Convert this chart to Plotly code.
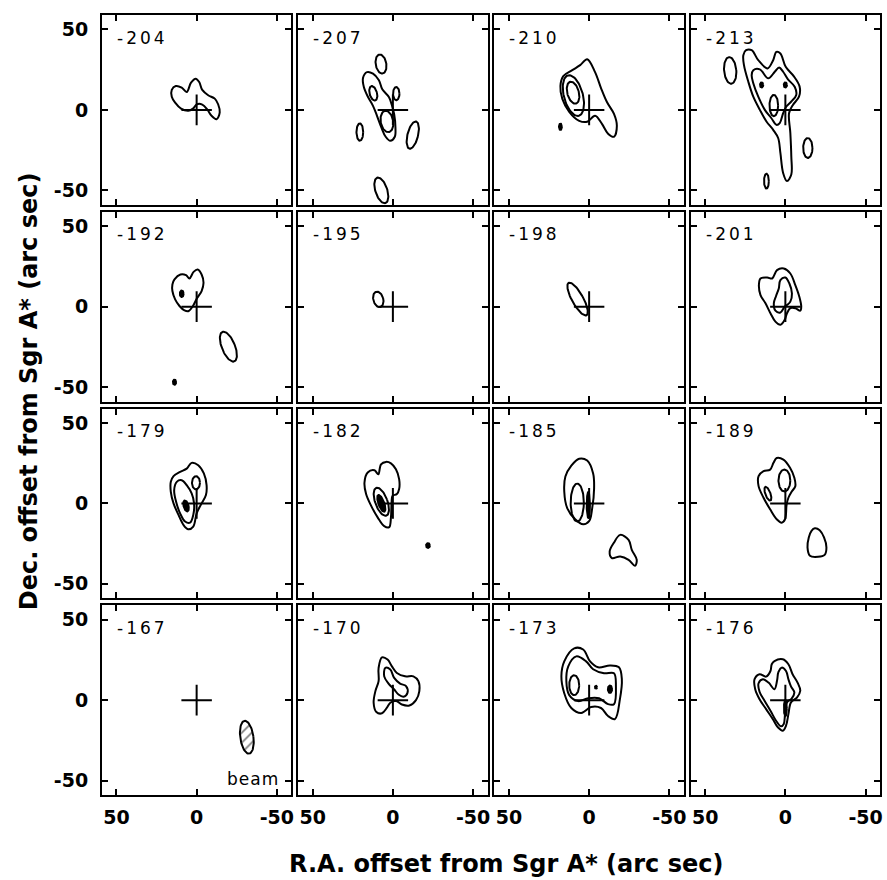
import numpy as np
import plotly.graph_objects as go
from plotly.subplots import make_subplots

# ---------------- data ----------------
VELOCITIES = [["-204", "-207", "-210", "-213"],
              ["-192", "-195", "-198", "-201"],
              ["-179", "-182", "-185", "-189"],
              ["-167", "-170", "-173", "-176"]]
TICK_VALS = [50, 0, -50]
TICK_TEXT = ["50", "0", "-50"]
AXIS_LIM = 59
CROSS_ARM = 9.5

# closed contour outlines: (R.A. offset, Dec. offset) in arcsec
C204 = [(15.5, 12.4), (13.0, 14.8), (9.3, 13.8), (6.2, 11.1), (3.5, 16.9), (0.6, 19.4), (-1.6, 17.3),
        (-3.5, 12.4), (-7.2, 9.1), (-11.3, 7.0), (-13.4, 3.5), (-14.4, -1.6), (-12.4, -5.8), (-9.3, -3.7),
        (-6.8, 0.0), (-3.5, 3.3), (-0.2, 3.5), (2.3, 0.8), (5.2, -0.6), (9.7, 0.8), (13.4, 4.5), (15.5, 8.2)]
C207 = [(16.1, 23.5), (12.4, 22.5), (8.7, 18.4), (6.6, 12.8), (2.5, 8.0), (0.8, 3.5), (-0.8, -2.7),
        (-1.6, -10.9), (-1.2, -16.7), (1.6, -19.2), (4.5, -16.7), (7.2, -10.9), (9.9, -3.7), (12.4, 2.5),
        (15.5, 8.0), (18.1, 14.2), (18.6, 20.0)]
C210 = [(1.2, 31.5), (-3.7, 23.5), (-7.4, 13.6), (-11.1, 4.9), (-15.5, -2.5), (-17.3, -9.9), (-15.5, -16.7),
        (-11.8, -14.8), (-8.0, -8.7), (-3.7, -3.7), (1.2, -7.4), (6.2, -6.8), (12.4, -1.2), (16.7, 6.8),
        (17.9, 14.8), (16.1, 21.0), (10.5, 24.7), (5.6, 27.8)]
C213_OUT = [(24.5, 37.1), (21.0, 37.1), (16.9, 30.9), (11.1, 25.8), (7.6, 30.9), (5.6, 36.1), (3.1, 35.1),
            (-0.2, 26.8), (-5.2, 21.0), (-8.9, 14.4), (-8.5, 8.2), (-4.7, 3.1), (-2.3, -2.1), (-3.1, -14.4),
            (-3.7, -28.9), (-3.7, -40.2), (-1.0, -44.3), (1.4, -39.2), (3.1, -26.8), (4.5, -17.5),
            (7.6, -12.4), (11.8, -7.2), (15.9, 0.0), (20.0, 8.2), (23.1, 17.5), (25.8, 27.8), (26.2, 34.0)]
C213_MID = [(20.0, 24.7), (15.9, 25.2), (10.7, 19.6), (6.6, 23.7), (3.9, 26.4), (1.4, 23.7), (-1.6, 19.0),
            (-5.8, 14.4), (-6.8, 9.3), (-3.7, 5.2), (-0.6, 2.1), (1.4, -2.1), (3.5, -8.2), (5.6, -9.3),
            (8.7, -5.2), (12.8, 0.0), (16.9, 8.2), (20.0, 16.5), (21.0, 21.6)]
C192 = [(13.8, 16.9), (10.1, 20.0), (6.6, 19.6), (4.5, 17.5), (1.9, 21.6), (-0.6, 23.1), (-3.1, 20.0),
        (-4.3, 14.8), (-3.1, 9.7), (-0.2, 5.2), (2.3, 0.4), (4.9, -2.7), (7.6, -2.3), (10.7, 0.4),
        (13.4, 4.5), (15.1, 9.7), (15.1, 13.8)]
C201_OUT = [(15.5, 17.5), (11.3, 18.1), (8.2, 17.5), (5.2, 22.7), (1.0, 23.7), (-3.1, 20.6), (-6.2, 13.4),
            (-8.7, 6.2), (-9.9, 0.0), (-9.3, -2.5), (-6.2, -1.0), (-3.1, -1.0), (-1.0, -4.1), (0.4, -8.2),
            (3.1, -11.3), (6.2, -9.3), (9.3, -4.1), (12.4, 2.1), (15.5, 7.2), (16.5, 13.4)]
C201_IN = [(3.1, 16.5), (0.0, 18.1), (-2.5, 14.4), (-4.1, 8.2), (-3.1, 3.1), (-1.0, 1.0), (0.4, 0.0),
           (3.1, -3.7), (6.2, -2.5), (7.2, 2.1), (5.8, 6.6), (4.1, 11.3)]
C179_OUT = [(3.1, 25.2), (-1.0, 23.7), (-4.5, 18.6), (-6.2, 11.3), (-5.8, 5.2), (-3.1, 0.0), (0.0, -6.2),
            (2.1, -14.4), (5.2, -16.1), (8.2, -13.4), (11.3, -7.2), (14.4, 0.0), (16.1, 7.2), (16.1, 13.4),
            (14.4, 16.9), (10.3, 19.6), (6.2, 21.6)]
C179_MID = [(12.4, 13.4), (9.3, 14.4), (6.2, 11.3), (3.1, 6.2), (1.6, 0.0), (2.1, -7.2), (4.1, -12.0),
            (7.2, -11.3), (10.3, -6.2), (12.8, 1.0), (14.0, 8.2)]
C182 = [(15.7, 19.2), (11.5, 20.6), (9.1, 18.1), (7.4, 24.3), (4.3, 25.8), (1.2, 24.9), (-1.9, 21.2),
        (-3.9, 15.1), (-3.9, 8.9), (-2.5, 5.8), (0.2, 4.7), (0.8, 0.6), (1.2, -8.7), (2.3, -14.8),
        (5.4, -14.2), (9.5, -8.7), (13.6, -1.4), (16.7, 5.8), (17.7, 13.0)]
C185_OUT = [(6.2, 27.8), (1.2, 26.6), (-2.5, 18.6), (-3.1, 9.3), (-1.9, -3.1), (0.0, -11.1), (3.7, -13.0),
            (8.7, -9.9), (13.6, -3.1), (15.5, 7.4), (14.8, 16.7), (11.1, 23.5)]
C185_SE = [(-19.4, -19.6), (-24.6, -22.7), (-26.6, -28.9), (-29.7, -35.1), (-28.6, -38.8), (-24.6, -35.1),
           (-19.4, -33.0), (-14.2, -34.0), (-12.8, -29.9), (-15.3, -24.7)]
C189_OUT = [(5.4, 28.2), (1.2, 27.2), (-2.9, 22.1), (-5.6, 15.9), (-6.2, 10.7), (-3.9, 7.2), (-1.9, 3.5),
            (-0.8, -0.6), (0.2, -9.9), (2.3, -12.0), (5.4, -9.9), (9.5, -3.7), (13.6, 3.5), (16.7, 10.7),
            (16.7, 16.9), (13.6, 20.0), (9.5, 21.0), (7.4, 25.2)]
C189_SE = [(-18.4, -15.5), (-21.4, -16.7), (-24.1, -21.2), (-25.6, -27.4), (-24.5, -32.0), (-20.4, -33.2),
           (-15.3, -32.6), (-13.8, -27.4), (-14.6, -21.2), (-16.3, -17.1)]
C170_OUT = [(6.8, 26.6), (3.3, 25.2), (0.6, 21.0), (-2.5, 16.9), (-7.6, 14.8), (-12.8, 14.8), (-15.9, 11.8),
            (-16.5, 5.6), (-14.4, 0.0), (-10.3, -3.3), (-5.6, -2.7), (-2.1, -0.6), (1.6, -1.6), (3.7, -4.7),
            (6.8, -8.2), (10.3, -7.4), (12.0, -1.6), (10.9, 5.6), (8.9, 11.8), (8.9, 20.0)]
C170_IN = [(4.7, 20.0), (1.6, 19.0), (-0.8, 13.8), (-4.5, 10.3), (-8.2, 8.7), (-9.1, 4.5), (-6.6, 2.1),
           (-3.5, 3.5), (-0.8, 6.6), (2.7, 10.3), (5.4, 14.8)]
C173_OUT = [(9.3, 32.2), (3.7, 31.5), (-0.6, 24.1), (-5.6, 20.4), (-13.0, 21.6), (-18.6, 20.4), (-20.4, 13.0),
            (-19.2, 0.6), (-16.1, -11.8), (-11.8, -9.9), (-7.4, -4.9), (-1.2, -4.3), (4.9, -8.0), (11.1, -4.9),
            (15.5, 4.3), (17.3, 14.8), (15.5, 24.1)]
C173_MID = [(8.0, 27.2), (1.9, 24.1), (-2.5, 19.2), (-9.3, 16.7), (-15.5, 16.7), (-16.7, 8.7), (-15.5, -2.5),
            (-11.8, -2.5), (-6.2, 1.2), (0.6, 1.2), (6.8, -0.6), (12.4, 3.1), (14.2, 11.8), (13.0, 21.0)]
C176_OUT = [(6.8, 24.3), (1.6, 25.4), (-1.9, 22.3), (-4.5, 16.1), (-7.6, 10.9), (-9.3, 5.8), (-7.2, 1.6),
            (-3.5, -1.4), (-1.9, -8.7), (-0.4, -15.9), (1.6, -19.0), (4.7, -16.9), (7.8, -11.8), (12.0, -5.6),
            (16.1, 0.6), (18.8, 6.8), (19.2, 13.0), (16.1, 16.1), (12.0, 14.6), (9.3, 18.1), (8.5, 22.3)]
C176_IN = [(2.3, 20.2), (-0.4, 18.1), (-1.9, 13.0), (-3.5, 8.5), (-5.6, 4.7), (-3.9, 1.0), (-1.0, -1.4),
           (0.2, -8.7), (1.0, -14.8), (2.7, -16.3), (5.8, -12.8), (9.3, -6.6), (13.0, -0.4), (16.1, 5.2),
           (16.7, 10.5), (14.0, 13.0), (10.5, 10.9), (6.8, 6.8), (5.2, 12.0), (4.3, 17.5)]

# elliptical contours: (ra, dec, semi-x, semi-y, screen tilt deg, filled)
E207 = [(7.4, 28.5, 3.3, 6.0, -10, False), (12.2, 10.3, 2.3, 4.6, -15, False), (3.7, -7.2, 3.9, 6.7, -10, False),
        (-2.1, 10.1, 2.0, 4.1, 0, False), (20.6, -13.8, 2.1, 5.4, 0, False), (-12.4, -15.7, 3.3, 8.7, 14, False),
        (7.2, -50.1, 3.7, 8.3, -18, False)]
E210 = [(9.8, 8.9, 5.9, 13.0, -15, False), (10.0, 10.7, 3.6, 7.0, -15, False), (17.9, -10.5, 0.9, 2.0, 0, True)]
E213 = [(7.2, 2.7, 2.7, 6.6, 0, False), (14.8, 15.5, 1.0, 1.6, 0, True), (0.0, 15.5, 1.0, 1.6, 0, True),
        (34.4, 24.5, 3.8, 8.3, -5, False), (-14.0, -23.7, 2.9, 6.2, 0, False), (11.8, -44.3, 1.5, 4.6, 0, False)]
E192 = [(9.3, 8.0, 1.2, 2.0, 0, True), (-19.8, -24.9, 4.1, 9.9, -22, False), (13.8, -47.0, 1.0, 1.6, 0, True)]
E195 = [(9.1, 4.5, 3.1, 4.9, -15, False)]
E198 = [(7.2, 4.7, 3.5, 11.5, -29, False)]
E179 = [(0.4, 12.8, 2.5, 4.1, 0, False), (6.6, -1.6, 1.5, 3.5, -15, True)]
E182 = [(7.2, 1.0, 3.8, 9.2, -20, False), (7.2, 0.0, 1.8, 5.5, -20, True), (-21.9, -26.2, 1.2, 1.5, 0, True)]
E185 = [(7.4, 0.5, 4.1, 11.8, 0, False), (0.5, -1.0, 1.0, 8.0, 0, True)]
E189 = [(0.6, 14.2, 3.7, 6.8, 0, False), (10.9, 6.0, 1.6, 4.5, -20, False)]
E173 = [(9.3, 9.3, 3.1, 6.2, 0, False), (-4.3, 8.0, 0.7, 0.9, 0, True), (-13.0, 6.8, 1.3, 2.3, 0, True)]
E176 = [(0.0, -5.0, 0.9, 5.0, 0, True)]
BEAM = (-31.3, -23.1, 4.1, 10.3, -8)
BEAM_LABEL = (-35.0, -49.0, "beam")

POLYS = {"-204": [C204], "-207": [C207], "-210": [C210], "-213": [C213_OUT, C213_MID],
         "-192": [C192], "-195": [], "-198": [], "-201": [C201_OUT, C201_IN],
         "-179": [C179_OUT, C179_MID], "-182": [C182], "-185": [C185_OUT, C185_SE], "-189": [C189_OUT, C189_SE],
         "-167": [], "-170": [C170_OUT, C170_IN], "-173": [C173_OUT, C173_MID], "-176": [C176_OUT, C176_IN]}
ELLS = {"-207": E207, "-210": E210, "-213": E213, "-192": E192, "-195": E195, "-198": E198,
        "-179": E179, "-182": E182, "-185": E185, "-189": E189, "-173": E173, "-176": E176}

# ---------------- figure ----------------
W, H = 887, 880
ML, MR, MT, MB = 102, 4, 15, 85
PW, PH = W - ML - MR, H - MT - MB
GAP = 7
fig = make_subplots(rows=4, cols=4, horizontal_spacing=GAP / PW, vertical_spacing=GAP / PH)

FONT = "DejaVu Sans"
LW = 2.0


def ellipse_xy(cx, cy, rx, ry, tilt):
    t = np.linspace(0, 2 * np.pi, 73)
    u, v = rx * np.cos(t), ry * np.sin(t)
    p = np.radians(tilt)
    xs = u * np.cos(p) + v * np.sin(p)
    ys = -u * np.sin(p) + v * np.cos(p)
    return cx - xs, cy + ys


def spaced(txt, px):
    return f'<span style="letter-spacing:{px}px">{txt}</span>'


for r in range(4):
    for c in range(4):
        vel = VELOCITIES[r][c]
        row, col = r + 1, c + 1
        for poly in POLYS.get(vel, []):
            xs = [p[0] for p in poly] + [poly[0][0]]
            ys = [p[1] for p in poly] + [poly[0][1]]
            fig.add_trace(go.Scatter(x=xs, y=ys, mode="lines", hoverinfo="skip", showlegend=False,
                                     line=dict(color="black", width=LW, shape="spline", smoothing=1.0)),
                          row=row, col=col)
        for (cx, cy, rx, ry, tilt, filled) in ELLS.get(vel, []):
            ex, ey = ellipse_xy(cx, cy, rx, ry, tilt)
            fig.add_trace(go.Scatter(x=ex, y=ey, mode="lines", hoverinfo="skip", showlegend=False,
                                     line=dict(color="black", width=LW),
                                     fill="toself" if filled else None,
                                     fillcolor="black" if filled else None),
                          row=row, col=col)
        # cross marking Sgr A*
        fig.add_trace(go.Scatter(x=[CROSS_ARM, -CROSS_ARM, None, 0, 0], y=[0, 0, None, CROSS_ARM, -CROSS_ARM],
                                 mode="lines", hoverinfo="skip", showlegend=False,
                                 line=dict(color="black", width=LW)), row=row, col=col)
        if vel == "-167":
            bx, by = ellipse_xy(*BEAM)
            fig.add_trace(go.Scatter(x=bx, y=by, mode="lines", hoverinfo="skip", showlegend=False,
                                     line=dict(color="black", width=LW), fill="toself",
                                     fillcolor="rgba(0,0,0,0)",
                                     fillpattern=dict(shape="/", size=7, solidity=0.25, fgcolor="black",
                                                      bgcolor="white")),
                          row=row, col=col)
        idx = r * 4 + c + 1
        xa = "x" if idx == 1 else f"x{idx}"
        ya = "y" if idx == 1 else f"y{idx}"
        fig.add_annotation(x=AXIS_LIM - 8.0, y=AXIS_LIM - 14.0, xref=xa, yref=ya, text=spaced(vel, 3),
                           showarrow=False, xanchor="left", yanchor="middle",
                           font=dict(family=FONT, size=17, color="black"))
        if vel == "-167":
            fig.add_annotation(x=BEAM_LABEL[0], y=BEAM_LABEL[1], xref=xa, yref=ya, text=spaced(BEAM_LABEL[2], 1),
                               showarrow=False, xanchor="center", yanchor="middle",
                               font=dict(family=FONT, size=17, color="black"))

        fig.update_xaxes(range=[AXIS_LIM, -AXIS_LIM], showgrid=False, zeroline=False, showline=True,
                         linecolor="black", linewidth=2, mirror="allticks", ticks="inside", ticklen=6,
                         tickwidth=1.5, tickcolor="black", tickvals=TICK_VALS, ticktext=TICK_TEXT,
                         showticklabels=(r == 3), ticklabelstandoff=4,
                         tickfont=dict(family=FONT, size=19, color="black", weight="bold"),
                         fixedrange=True, row=row, col=col)
        fig.update_yaxes(range=[-AXIS_LIM, AXIS_LIM], showgrid=False, zeroline=False, showline=True,
                         linecolor="black", linewidth=2, mirror="allticks", ticks="inside", ticklen=6,
                         tickwidth=1.5, tickcolor="black", tickvals=TICK_VALS, ticktext=TICK_TEXT,
                         showticklabels=(c == 0), ticklabelstandoff=8,
                         tickfont=dict(family=FONT, size=19, color="black", weight="bold"),
                         fixedrange=True, row=row, col=col)

fig.add_annotation(xref="paper", yref="paper", x=(508 - ML) / PW, y=(H - MB - 864) / PH,
                   text="R.A. offset from Sgr A* (arc sec)", showarrow=False, xanchor="center", yanchor="middle",
                   font=dict(family=FONT, size=24, color="black", weight="bold"))
fig.add_annotation(xref="paper", yref="paper", x=(29 - ML) / PW, y=(H - MB - 391) / PH,
                   text="Dec. offset from Sgr A* (arc sec)", showarrow=False, textangle=-90,
                   xanchor="center", yanchor="middle",
                   font=dict(family=FONT, size=24, color="black", weight="bold"))

fig.update_layout(width=W, height=H, margin=dict(l=ML, r=MR, t=MT, b=MB),
                  paper_bgcolor="white", plot_bgcolor="white", showlegend=False)

fig.write_html("out.html")
